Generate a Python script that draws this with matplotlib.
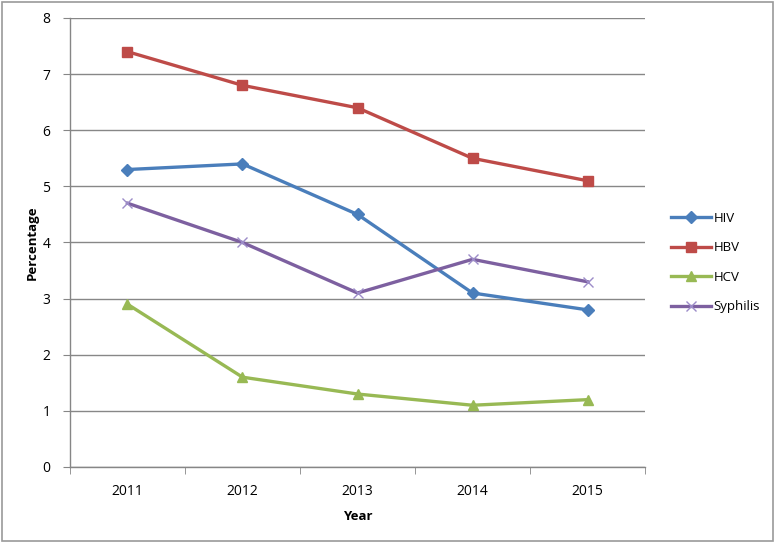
import matplotlib.pyplot as plt
from matplotlib.patches import Rectangle

years = ['2011', '2012', '2013', '2014', '2015']
hiv = [5.3, 5.4, 4.5, 3.1, 2.8]
hbv = [7.4, 6.8, 6.4, 5.5, 5.1]
hcv = [2.9, 1.6, 1.3, 1.1, 1.2]
syphilis = [4.7, 4.0, 3.1, 3.7, 3.3]

plt.rcParams['font.family'] = ['Open Sans', 'DejaVu Sans']

fig = plt.figure(figsize=(7.75, 5.42), dpi=100)
ax = fig.add_axes([0.0903, 0.1384, 0.742, 0.8284])

x = range(len(years))
ax.plot(x, hiv, color='#4A7EBB', lw=2.4, marker='D', ms=6, label='HIV')
ax.plot(x, hbv, color='#BE4B48', lw=2.4, marker='s', ms=7, label='HBV')
ax.plot(x, hcv, color='#98B954', lw=2.4, marker='^', ms=7, label='HCV')
ax.plot(x, syphilis, color='#7D60A0', lw=2.4, marker='x', ms=7, mew=1,
        mec='#9C8CC8', label='Syphilis')

ax.set_xlim(-0.5, len(years) - 0.5)
ax.set_ylim(0, 8)
ax.set_yticks(range(0, 9))
ax.set_xticks(list(x))
ax.set_xticklabels(years)
ax.set_xticks([i - 0.5 for i in range(len(years) + 1)], minor=True)
ax.tick_params(axis='x', which='major', length=0, pad=12, labelsize=10)
ax.tick_params(axis='x', which='minor', length=5, color='#868686', direction='out')
ax.tick_params(axis='y', length=5, color='#868686', direction='out', labelsize=10, pad=9)

ax.grid(axis='y', color='#878787', lw=1)
ax.set_axisbelow(True)
for s in ['top', 'right']:
    ax.spines[s].set_visible(False)
for s in ['left', 'bottom']:
    ax.spines[s].set_color('#868686')
    ax.spines[s].set_linewidth(1)

ax.set_xlabel('Year', fontweight='bold', fontsize=9.5, labelpad=8)
ax.set_ylabel('Percentage', fontweight='bold', fontsize=9.5, labelpad=3)

ax.legend(loc='center left', bbox_to_anchor=(1.025, 0.455), frameon=False,
          fontsize=9.5, handlelength=3, labelspacing=1.25, handletextpad=0.2)

fig.patches.append(Rectangle((0.002, 0.002), 0.996, 0.994, transform=fig.transFigure,
                             fill=False, edgecolor='#9a9a9a', lw=1.2))

fig.savefig('out.png', dpi=100)
